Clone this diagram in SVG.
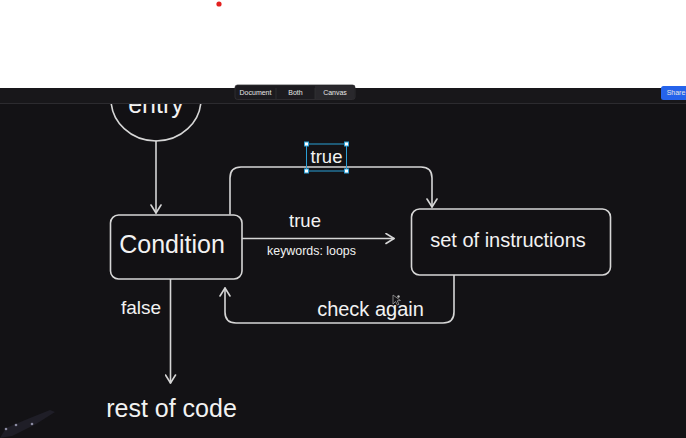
<svg xmlns="http://www.w3.org/2000/svg" width="686" height="438" viewBox="0 0 686 438">
<defs>
<style>
.ln{fill:none;stroke:#d6d6d6;stroke-width:1.6;stroke-linecap:round;stroke-linejoin:round}
.box{fill:#121114;stroke:#d6d6d6;stroke-width:1.6}
.t{font-family:"Liberation Sans",Arial,sans-serif;fill:#f2f2f2}
.ui{font-family:"Liberation Sans",Arial,sans-serif;font-size:7px;fill:#e6e6e6;text-anchor:middle}
.h{fill:#ffffff;stroke:#2a9fd6;stroke-width:1}
</style>
<clipPath id="canvasClip"><rect x="0" y="104" width="686" height="334"/></clipPath>
<marker id="ar" viewBox="0 0 10 12" refX="9" refY="6" markerWidth="10" markerHeight="12" markerUnits="userSpaceOnUse" orient="auto">
<path d="M1,1 L9,6 L1,11" fill="none" stroke="#d6d6d6" stroke-width="1.6" stroke-linecap="round" stroke-linejoin="round"/>
</marker>
</defs>
<rect x="0" y="0" width="686" height="438" fill="#ffffff"/>
<circle cx="219" cy="4" r="2.6" fill="#e3201f"/>
<rect x="0" y="88" width="686" height="350" fill="#131215"/>

<g id="entry" clip-path="url(#canvasClip)">
<ellipse cx="156" cy="99" rx="45" ry="42" class="box"/>
<text class="t" x="156" y="113" font-size="25" text-anchor="middle">entry</text>
</g>

<g id="toolbar">
<rect x="0" y="88" width="686" height="15" fill="#18171a"/>
<line x1="0" y1="103.5" x2="686" y2="103.5" stroke="#2c2b2f" stroke-width="1"/>
<rect x="235" y="85" width="120" height="14.5" rx="2.5" fill="#1c1b1f" stroke="#333236" stroke-width="0.8"/>
<rect x="315" y="85.5" width="39.5" height="13.6" fill="#29282c"/>
<line x1="276" y1="88" x2="276" y2="99" stroke="#333236" stroke-width="0.8"/>
<line x1="315" y1="88" x2="315" y2="99" stroke="#333236" stroke-width="0.8"/>
<text class="ui" x="255.5" y="94.5">Document</text>
<text class="ui" x="295.5" y="94.5">Both</text>
<text class="ui" x="335" y="94.5">Canvas</text>
<rect x="661" y="86" width="30" height="14" rx="2.5" fill="#2563eb"/>
<text class="ui" x="676" y="94.5">Share</text>
</g>

<g id="connectors">
<path class="ln" d="M156,141 L156,213" marker-end="url(#ar)"/>
<path class="ln" d="M242,238.5 L394,238.5" marker-end="url(#ar)"/>
<path class="ln" d="M230,214 L230,178 Q230,167 241,167 L421,167 Q432,167 432,178 L432,207" marker-end="url(#ar)"/>
<path class="ln" d="M454,275 L454,312 Q454,323 443,323 L236,323 Q225,323 225,312 L225,288" marker-end="url(#ar)"/>
<path class="ln" d="M170.5,279 L170.5,383" marker-end="url(#ar)"/>
</g>

<g id="condition">
<rect x="110.5" y="215" width="131.5" height="64" rx="8" class="box"/>
<text class="t" x="172" y="253" font-size="25" text-anchor="middle">Condition</text>
</g>

<g id="set-of-instructions">
<rect x="411.5" y="209" width="199" height="66" rx="8" class="box"/>
<text class="t" x="508" y="246.5" font-size="20" text-anchor="middle">set of instructions</text>
</g>

<g id="rest-of-code">
<text class="t" x="171.5" y="417" font-size="25" text-anchor="middle">rest of code</text>
</g>

<g id="labels">
<text class="t" x="305" y="227" font-size="18.5" text-anchor="middle">true</text>
<text class="t" x="311.5" y="255" font-size="12.4" text-anchor="middle">keywords: loops</text>
<text class="t" x="141" y="314" font-size="19" text-anchor="middle">false</text>
<text class="t" x="370.5" y="316" font-size="20" text-anchor="middle">check again</text>
<g id="selected-true">
<rect x="306.5" y="144" width="40" height="27" fill="none" stroke="#2a9fd6" stroke-width="1"/>
<text class="t" x="326.5" y="163" font-size="18.5" text-anchor="middle">true</text>
<rect x="304.5" y="142" width="4" height="4" class="h"/>
<rect x="344.5" y="142" width="4" height="4" class="h"/>
<rect x="304.5" y="169" width="4" height="4" class="h"/>
<rect x="344.5" y="169" width="4" height="4" class="h"/>
</g>
</g>

<path d="M393,295 L393,304 L395.5,301.5 L397.5,305 L399,304.3 L397.2,300.8 L400.5,300.5 Z" fill="none" stroke="#9a9a9a" stroke-width="0.8"/>
<circle cx="398.5" cy="296.5" r="1.2" fill="#bdbdbd"/>
<path d="M0,438 L6,428 L30,418 L50,410 L55,412 L36,424 L12,436 Z" fill="#1f1e27"/>
<circle cx="6" cy="429" r="1.3" fill="#8a8aa0"/>
<circle cx="16" cy="425" r="1.3" fill="#8a8aa0"/>
<circle cx="32" cy="424" r="1.3" fill="#8a8aa0"/>
</svg>
